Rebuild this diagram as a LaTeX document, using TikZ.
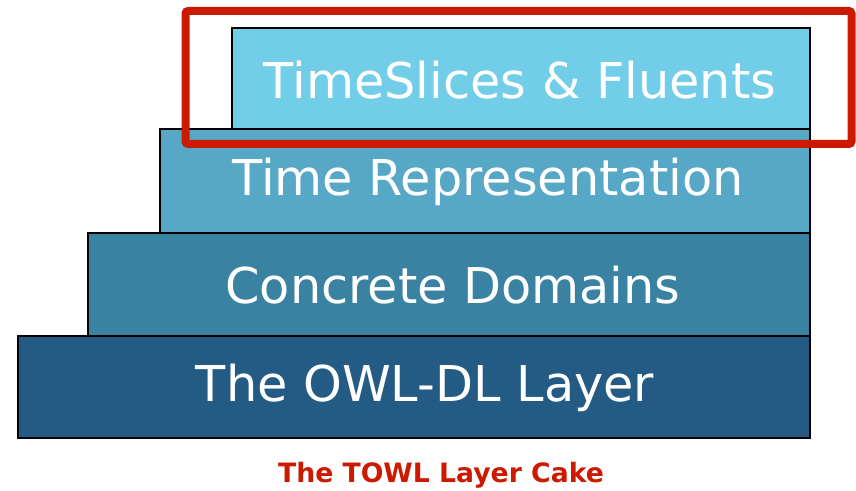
\documentclass[tikz,border=0pt]{standalone}
\usepackage{fontspec}
\setmainfont{DejaVu Sans}
\definecolor{cA}{HTML}{72CDE8}
\definecolor{cB}{HTML}{57A7C6}
\definecolor{cC}{HTML}{3A82A1}
\definecolor{cD}{HTML}{235B84}
\definecolor{cRed}{HTML}{CC1A00}
\tikzset{
  layer/.style={draw=black, line width=1.2pt},
  ltext/.style={text=white, font=\fontsize{37}{41}\selectfont},
}
\begin{document}
\begin{tikzpicture}[x=0.75pt,y=-0.75pt]
\useasboundingbox (0,0) rectangle (856,491);
\fill[white] (0,0) rectangle (856,491);
\draw[layer, fill=cD] (18,336) rectangle (810,438);
\draw[layer, fill=cC] (88,233) rectangle (810,336);
\draw[layer, fill=cB] (160,129) rectangle (810,233);
\draw[layer, fill=cA] (232,28) rectangle (810,129);
\node[ltext] (l4) at (520,80) {TimeSlices \& Fluents};
\node[ltext] (l3) at (488,182) {Time Representation};
\node[ltext] (l2) at (453,285) {Concrete Domains};
\node[ltext] (l1) at (425,388) {The OWL-DL Layer};
\draw[cRed, line width=6pt, rounded corners=2pt] (185.5,11) rectangle (851.5,144);
\node[text=cRed, font=\bfseries\fontsize{20}{22}\selectfont] (cap) at (441,475) {The TOWL Layer Cake};
\end{tikzpicture}
\end{document}
